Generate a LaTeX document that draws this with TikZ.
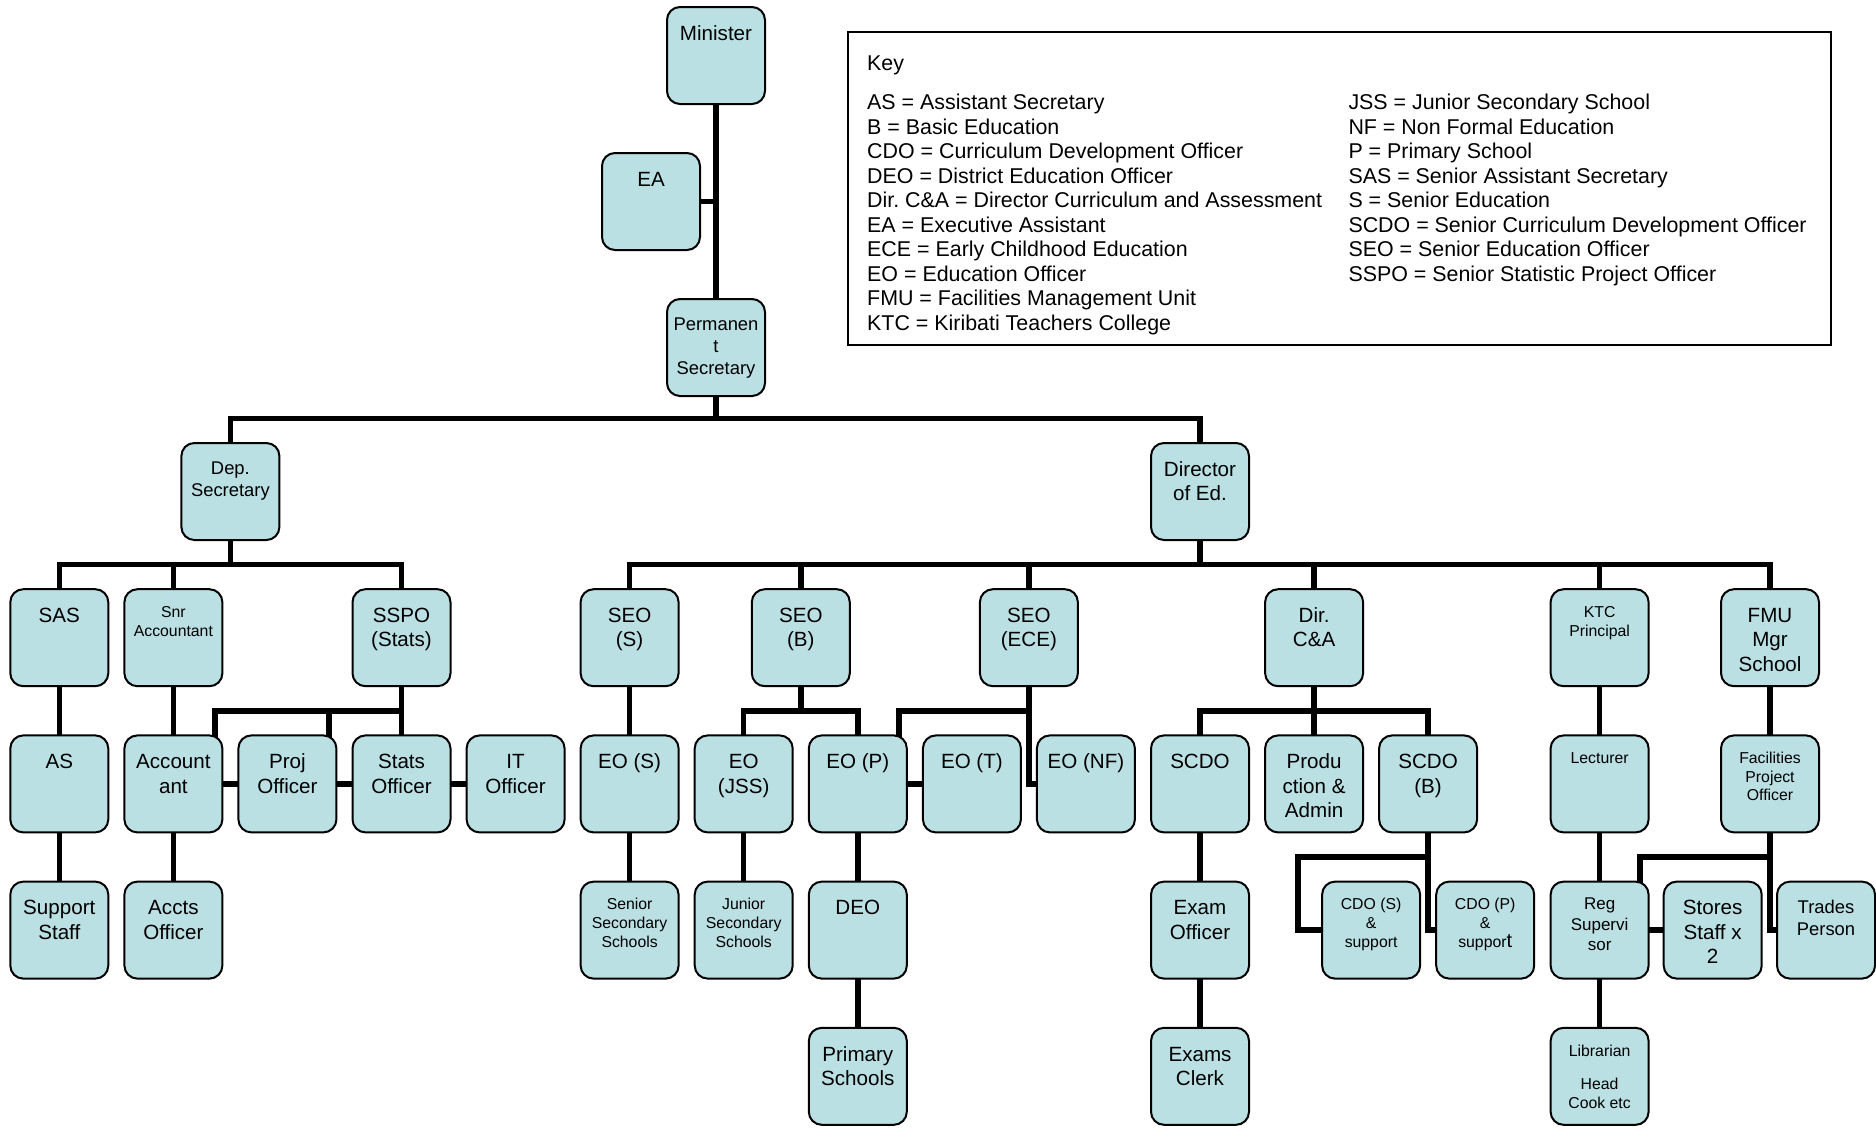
\documentclass[tikz,border=0pt]{standalone}
\usepackage{fontspec}
\setmainfont{Liberation Sans}
\usetikzlibrary{backgrounds}
\frenchspacing
\definecolor{boxblue}{RGB}{186,224,227}
\newcommand\fs{\rule{0pt}{22pt}}
\tikzset{
 obox/.style={draw=black, line width=2pt, rounded corners=13pt, fill=boxblue, minimum width=98pt, minimum height=97pt, inner sep=0pt, outer sep=0pt},
 conn/.style={line width=5.5pt, line cap=rect, line join=miter, draw=black},
 tL/.style={anchor=north, align=center, inner sep=0pt, yshift=-11pt, font=\fontsize{20.6}{24.5}\selectfont},
 tM/.style={anchor=north, align=center, inner sep=0pt, yshift=-9.5pt, font=\fontsize{18.4}{21.8}\selectfont},
 tS/.style={anchor=north, align=center, inner sep=0pt, yshift=-6pt, font=\fontsize{15.8}{18.6}\selectfont},
 tR/.style={anchor=north, align=center, inner sep=0pt, yshift=-6pt, font=\fontsize{17}{20.3}\selectfont},
 keyt/.style={anchor=north west, align=left, inner sep=0pt, font=\fontsize{21.4}{24.5}\selectfont},
}
\newcommand\obx[5]{\node[obox] (#1) at (#2,#3) {};\node[t#4] (#1-t) at (#1.north) {\fs#5};}
\begin{document}
\begin{tikzpicture}[x=1pt,y=-1pt]
\useasboundingbox (0,0) rectangle (1876,1128);
% levels
\coordinate (lvlPS) at (0,418.7);
\coordinate (lvlAB) at (0,564.6);
\coordinate (lvlBC) at (0,710.8);
\coordinate (lvlCD) at (0,857);
% top
\obx{min}{716}{55.5}{L}{Minister}
\obx{ea}{651}{201.5}{L}{EA}
\obx{ps}{716}{347.5}{M}{Permanen\\t\\Secretary}
\obx{dep}{230.4}{491.5}{M}{Dep.\\Secretary}
\obx{dir}{1200}{491.5}{L}{Director\\of Ed.}
% row B
\obx{sas}{59.3}{637.7}{L}{SAS}
\obx{snracc}{173.4}{637.7}{S}{Snr\\Accountant}
\obx{sspo}{401.5}{637.7}{L}{SSPO\\(Stats)}
\obx{seoS}{629.6}{637.7}{L}{SEO\\(S)}
\obx{seoB}{800.8}{637.7}{L}{SEO\\(B)}
\obx{seoE}{1028.9}{637.7}{L}{SEO\\(ECE)}
\obx{dca}{1314.1}{637.7}{L}{Dir.\\C\&A}
\obx{ktc}{1599.6}{637.7}{S}{KTC\\Principal}
\obx{fmu}{1770}{637.7}{L}{FMU\\Mgr\\School}
% row C
\obx{as}{59.3}{783.9}{L}{AS}
\obx{acc}{173.4}{783.9}{L}{Account\\ant}
\obx{proj}{287.4}{783.9}{L}{Proj\\Officer}
\obx{stats}{401.5}{783.9}{L}{Stats\\Officer}
\obx{it}{515.6}{783.9}{L}{IT\\Officer}
\obx{eoS}{629.6}{783.9}{L}{EO (S)}
\obx{eoJ}{743.7}{783.9}{L}{EO\\(JSS)}
\obx{eoP}{857.8}{783.9}{L}{EO (P)}
\obx{eoT}{971.9}{783.9}{L}{EO (T)}
\obx{eoNF}{1085.9}{783.9}{L}{EO (NF)}
\obx{scdo}{1200}{783.9}{L}{SCDO}
\obx{prod}{1314.1}{783.9}{L}{Produ\\ction \&\\Admin}
\obx{scdoB}{1428.1}{783.9}{L}{SCDO\\(B)}
\obx{lect}{1599.6}{783.9}{S}{Lecturer}
\obx{fac}{1770}{783.9}{S}{Facilities\\Project\\Officer}
% row D
\obx{support}{59.3}{930.1}{L}{Support\\Staff}
\obx{accts}{173.4}{930.1}{L}{Accts\\Officer}
\obx{senior}{629.6}{930.1}{S}{Senior\\Secondary\\Schools}
\obx{junior}{743.7}{930.1}{S}{Junior\\Secondary\\Schools}
\obx{deo}{857.8}{930.1}{L}{DEO}
\obx{exam}{1200}{930.1}{L}{Exam\\Officer}
\obx{cdoS}{1371.1}{930.1}{S}{CDO (S)\\\&\\support}
\obx{cdoP}{1485.2}{930.1}{S}{CDO (P)\\\&\\suppor{\fontsize{20}{18}\selectfont t}}
\obx{reg}{1599.6}{930.1}{R}{Reg\\Supervi\\sor}
\obx{stores}{1712.7}{930.1}{L}{Stores\\Staff x\\2}
\obx{trades}{1826}{930.1}{M}{Trades\\Person}
% row E
\obx{primary}{857.8}{1076.3}{L}{Primary\\Schools}
\obx{clerk}{1200}{1076.3}{L}{Exams\\Clerk}
\obx{lib}{1599.6}{1076.3}{S}{Librarian\\[15pt]Head\\Cook etc}
% key
\node[draw=black, line width=2pt, minimum width=983pt, minimum height=313pt, anchor=north west, inner sep=0pt] (keybox) at (847,31) {};
\node[keyt] (keytitle) at (867,48) {\fs Key};
\node[keyt] (keyleft) at (867,87.5) {\fs AS = Assistant Secretary\\B = Basic Education\\CDO = Curriculum Development Officer\\DEO = District Education Officer\\Dir. C\&A = Director Curriculum and Assessment\\EA = Executive Assistant\\ECE = Early Childhood Education\\EO = Education Officer\\FMU = Facilities Management Unit\\KTC = Kiribati Teachers College};
\node[keyt] (keyright) at (1348.3,87.5) {\fs JSS = Junior Secondary School\\NF = Non Formal Education\\P = Primary School\\SAS = Senior Assistant Secretary\\S = Senior Education\\SCDO = Senior Curriculum Development Officer\\SEO = Senior Education Officer\\SSPO = Senior Statistic Project Officer};
% connectors
\begin{scope}[on background layer]
\draw[conn] (min.south) -- (ps.north);
\draw[conn] (ea.east) -- (ea.east -| min.south);
\draw[conn] (ps.south) -- (ps.south |- lvlPS);
\draw[conn] (dep.north) |- (lvlPS -| dir.north) -- (dir.north);
% dep sec
\draw[conn] (dep.south) -- (dep.south |- lvlAB);
\draw[conn] (sas.north) |- (lvlAB -| sspo.north) -- (sspo.north);
\draw[conn] (snracc.north) -- (snracc.north |- lvlAB);
\draw[conn] (sas.south) -- (as.north);
\draw[conn] (as.south) -- (support.north);
\draw[conn] (snracc.south) -- (acc.north);
\draw[conn] (acc.south) -- (accts.north);
\draw[conn] (sspo.south) -- (stats.north);
\draw[conn] (sspo.south |- lvlBC) -| ([xshift=-7.5pt]acc.north east);
\draw[conn] ([xshift=-7.5pt]proj.north east) -- ([xshift=-7.5pt]proj.north east |- lvlBC);
\draw[conn] (acc.east) -- (proj.west);
\draw[conn] (proj.east) -- (stats.west);
\draw[conn] (stats.east) -- (it.west);
% director
\draw[conn] (dir.south) -- (dir.south |- lvlAB);
\draw[conn] (seoS.north) |- (lvlAB -| fmu.north) -- (fmu.north);
\draw[conn] (seoB.north) -- (seoB.north |- lvlAB);
\draw[conn] (seoE.north) -- (seoE.north |- lvlAB);
\draw[conn] (dca.north) -- (dca.north |- lvlAB);
\draw[conn] (ktc.north) -- (ktc.north |- lvlAB);
% SEO S
\draw[conn] (seoS.south) -- (eoS.north);
\draw[conn] (eoS.south) -- (senior.north);
% SEO B
\draw[conn] (seoB.south) -- (seoB.south |- lvlBC);
\draw[conn] (eoJ.north) |- (lvlBC -| eoP.north) -- (eoP.north);
\draw[conn] (eoJ.south) -- (junior.north);
\draw[conn] (eoP.south) -- (deo.north);
\draw[conn] (deo.south) -- (primary.north);
\draw[conn] (eoP.east) -- (eoT.west);
% SEO ECE
\draw[conn] (seoE.south) |- (eoNF.west);
\draw[conn] (seoE.south |- lvlBC) -| ([xshift=-8pt]eoP.north east);
% Dir C&A
\draw[conn] (dca.south) -- (dca.south |- lvlBC);
\draw[conn] (scdo.north) |- (lvlBC -| scdoB.north) -- (scdoB.north);
\draw[conn] (prod.north) -- (prod.north |- lvlBC);
\draw[conn] (scdo.south) -- (exam.north);
\draw[conn] (exam.south) -- (clerk.north);
\draw[conn] (scdoB.south) |- (cdoP.west);
\draw[conn] (scdoB.south |- lvlCD) -| ([xshift=-24pt]cdoS.west) -- (cdoS.west);
% KTC
\draw[conn] (ktc.south) -- (lect.north);
\draw[conn] (lect.south) -- (reg.north);
\draw[conn] (reg.south) -- (lib.north);
\draw[conn] (reg.east) -- (stores.west);
% FMU
\draw[conn] (fmu.south) -- (fac.north);
\draw[conn] (fac.south) |- (trades.west);
\draw[conn] (fac.south |- lvlCD) -| ([xshift=-8.5pt]reg.north east);
\end{scope}
\end{tikzpicture}
\end{document}
